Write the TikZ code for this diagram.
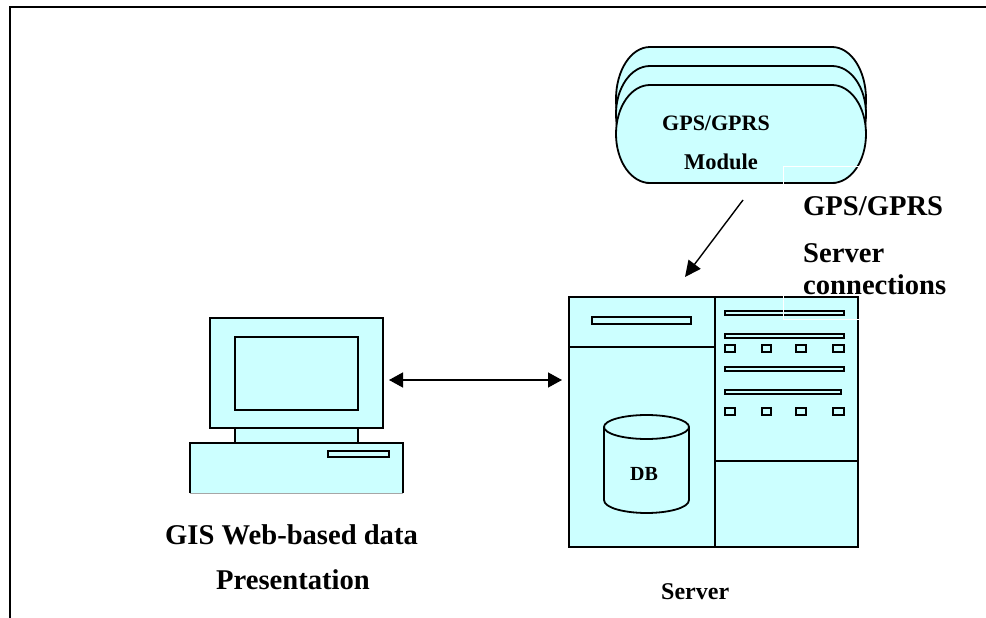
\documentclass[tikz,border=0pt]{standalone}
\usepackage{fontspec}
\setmainfont{Liberation Serif}
\usetikzlibrary{arrows.meta}
\definecolor{fillcyan}{HTML}{CCFFFF}
\newcommand{\stadium}[2]{% top y, vertical radius
  \draw[part] (650,#1) -- (832,#1)
    .. controls (851,#1) and (866,#1+0.45*#2) .. (866,#1+#2)
    .. controls (866,#1+#2+#2*0.55) and (851,183) .. (832,183)
    -- (650,183)
    .. controls (631,183) and (616,#1+#2+#2*0.55) .. (616,#1+#2)
    .. controls (616,#1+0.45*#2) and (631,#1) .. (650,#1) -- cycle;}
\tikzset{
  x=1pt,y=-1pt,
  part/.style={draw=black,fill=fillcyan,line width=1.8pt,line join=miter},
  slotbox/.style={draw=black,fill=fillcyan,line width=1.5pt},
  flow/.style={draw=black,line width=1.4pt,{Triangle[length=14pt,width=15pt]}-{Triangle[length=14pt,width=15pt]}},
  flowone/.style={draw=black,line width=1.4pt,-{Triangle[length=16pt,width=15pt]}},
  lab/.style={inner sep=0pt,anchor=base west},
  big/.style={lab,font=\fontsize{28.6}{32}\selectfont\bfseries},
  mid/.style={lab,font=\fontsize{22}{26}\selectfont\bfseries},
  small/.style={lab,font=\fontsize{24}{28}\selectfont\bfseries}
}
\begin{document}
\begin{tikzpicture}
\useasboundingbox (0,0) rectangle (986,618);
\fill[white] (0,0) rectangle (986,618);
% frame
\draw[black,line width=1.8pt] (10,618) -- (10,7) -- (986,7);
% module stack
\stadium{47}{52}
\stadium{66}{48}
\stadium{85}{49}
% server
\draw[part] (569,297) rectangle (858,547);
\draw[part] (715,297) -- (715,547);
\draw[part] (569,347) -- (715,347);
\draw[part] (715,461) -- (858,461);
\draw[slotbox] (592,317) rectangle (691,324);
\draw[slotbox] (725,311) rectangle (844,315);
\draw[slotbox] (725,334) rectangle (844,338);
\draw[slotbox] (725,367) rectangle (844,371);
\draw[slotbox] (725,390) rectangle (841,394);
\foreach \yy in {345,408}{
  \draw[slotbox] (725,\yy) rectangle (735,\yy+7);
  \draw[slotbox] (762,\yy) rectangle (771,\yy+7);
  \draw[slotbox] (796,\yy) rectangle (806,\yy+7);
  \draw[slotbox] (833,\yy) rectangle (844,\yy+7);
}
% cylinder
\draw[part] (604,427) -- (604,500) .. controls (604,508) and (625,513) .. (646.5,513) .. controls (668,513) and (689,508) .. (689,500) -- (689,427);
\draw[part] (646.5,427) ellipse[x radius=42.5,y radius=12];
\node[lab,font=\fontsize{20}{24}\selectfont\bfseries,anchor=center] (db) at (644,474) {DB};
% computer
\draw[part] (210,318) rectangle (383,428);
\draw[part] (235,337) rectangle (358,410);
\draw[part] (235,428) rectangle (358,443);
\fill[fillcyan] (190,443) rectangle (403,493);
\draw[gray!70,line width=0.7pt] (190,493) -- (403,493);
\draw[part,fill=none] (190,493) -- (190,443) -- (403,443) -- (403,493);
\draw[slotbox] (328,451) rectangle (389,457);
% connectors
\coordinate (pcport) at (389,380);
\coordinate (srvport) at (562,380);
\draw[flow] (pcport) -- (srvport);
\coordinate (modout) at (743,200);
\coordinate (srvin) at (685,277);
\draw[flowone] (modout) -- (srvin);
% white text box
\draw[white,line width=1pt] (783,166) rectangle (860,319);
% texts
\node[mid] (t1) at (662,130) {GPS/GPRS};
\node[mid,font=\fontsize{22.5}{26}\selectfont\bfseries] (t1b) at (684,169) {Module};
\node[big] (t2) at (803,215) {GPS/GPRS};
\node[big] (t3) at (803,262) {Server};
\node[big] (t4) at (803,294) {connections};
\node[big] (t5) at (165,544) {GIS Web-based data};
\node[big] (t6) at (216,589) {Presentation};
\node[small] (t7) at (661,599) {Server};
\end{tikzpicture}
\end{document}
